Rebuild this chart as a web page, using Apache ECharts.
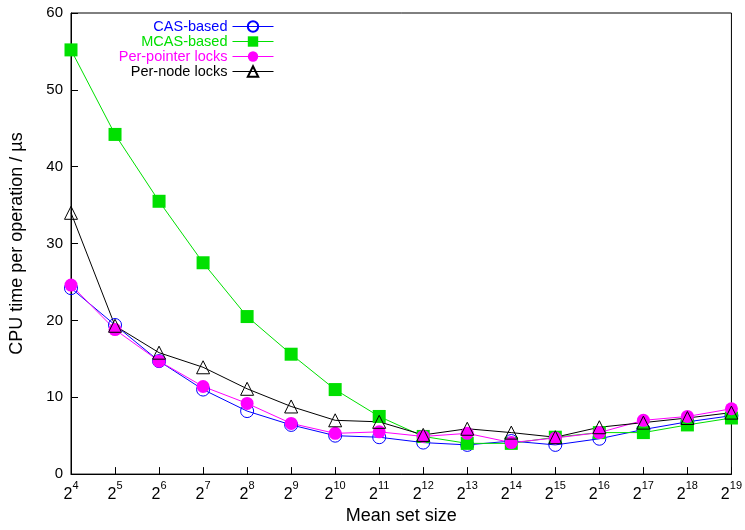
<!DOCTYPE html>
<html>
<head>
<meta charset="utf-8">
<script src="https://cdn.jsdelivr.net/npm/echarts@6/dist/echarts.min.js"></script>
<style>html,body{margin:0;padding:0;background:#fff}#c{width:745px;height:530px}</style>
</head>
<body>
<div id="c"></div>
<script>
var exponents = [4,5,6,7,8,9,10,11,12,13,14,15,16,17,18,19];
var casBased =     [24.2,19.4,14.7,11.0,8.2,6.4,5.0,4.8,4.1,3.8,4.3,3.8,4.6,5.8,6.8,7.6];
var mcasBased =    [55.2,44.2,35.5,27.5,20.5,15.6,11.0,7.5,4.9,4.0,4.0,4.8,5.4,5.4,6.4,7.3];
var perPointer =   [24.6,18.8,14.7,11.4,9.2,6.6,5.3,5.5,4.9,5.3,4.1,4.7,5.4,7.0,7.5,8.5];
var perNode =      [34.0,19.3,15.8,13.9,11.1,8.8,7.0,6.8,5.1,5.9,5.4,4.8,6.1,6.7,7.3,8.0];
var yTicks = [0,10,20,30,40,50,60];

var seriesNames = ['CAS-based','MCAS-based','Per-pointer locks','Per-node locks'];
var seriesColors = ['#0000ff','#00e000','#ff00ff','#000000'];

var chart = echarts.init(document.getElementById('c'), null, {renderer:'canvas'});
var font = 'Liberation Sans, Arial, Helvetica, sans-serif';

function mk(i, data, symbol, filled, size) {
  return {
    name: seriesNames[i], type: 'line', data: data,
    symbol: symbol, symbolSize: size,
    showAllSymbol: true,
    lineStyle: {color: seriesColors[i], width: 1},
    itemStyle: filled ? {color: seriesColors[i], borderColor: seriesColors[i], borderWidth: 0}
                      : {color: '#ffffff00', borderColor: seriesColors[i], borderWidth: 1},
    emphasis: {disabled: true},
    animation: false
  };
}

chart.setOption({
  backgroundColor: '#fff',
  textStyle: {fontFamily: font},
  grid: {left: 70, right: 11, top: 13, bottom: 48, show: true, borderColor: '#000', borderWidth: 1},
  legend: {
    orient: 'vertical', align: 'right',
    right: 466, top: 14,
    itemWidth: 41, itemHeight: 13, itemGap: 0,
    textStyle: {fontSize: 14.5, lineHeight: 14.8, fontFamily: font},
    data: seriesNames.map(function(n,i){
      return {name: n, textStyle: {color: seriesColors[i]},
              lineStyle: {color: seriesColors[i], width: 1}};
    })
  },
  xAxis: {
    type: 'category', boundaryGap: false,
    data: exponents.map(String),
    name: 'Mean set size', nameLocation: 'middle', nameGap: 32,
    nameTextStyle: {fontSize: 18, color: '#000', fontFamily: font},
    axisLine: {lineStyle: {color: '#000', width: 1}},
    axisTick: {inside: true, length: 7, interval: 0, lineStyle: {color: '#000'}},
    axisLabel: {
      margin: 6, color: '#000', interval: 0,
      formatter: function(v){ return '{b|2}{s|' + v + '}'; },
      rich: {b: {fontSize: 16, color: '#000', fontFamily: font, padding:[6,0,0,0]},
             s: {fontSize: 11, color: '#000', fontFamily: font, verticalAlign: 'top', padding:[0,0,0,0]}}
    }
  },
  yAxis: {
    type: 'value', min: yTicks[0], max: yTicks[yTicks.length-1], interval: 10,
    name: 'CPU time per operation / µs', nameLocation: 'middle', nameGap: 45,
    nameTextStyle: {fontSize: 18, color: '#000', fontFamily: font},
    axisLine: {show: true, lineStyle: {color: '#000', width: 1}},
    axisTick: {show: true, inside: true, length: 7, lineStyle: {color: '#000'}},
    axisLabel: {fontSize: 15, color: '#000', margin: 8},
    splitLine: {show: false}
  },
  series: [
    mk(0, casBased, 'circle', false, 13),
    mk(1, mcasBased, 'rect', true, 13),
    mk(2, perPointer, 'circle', true, 13),
    mk(3, perNode, 'triangle', false, 13)
  ]
});
</script>
</body>
</html>
